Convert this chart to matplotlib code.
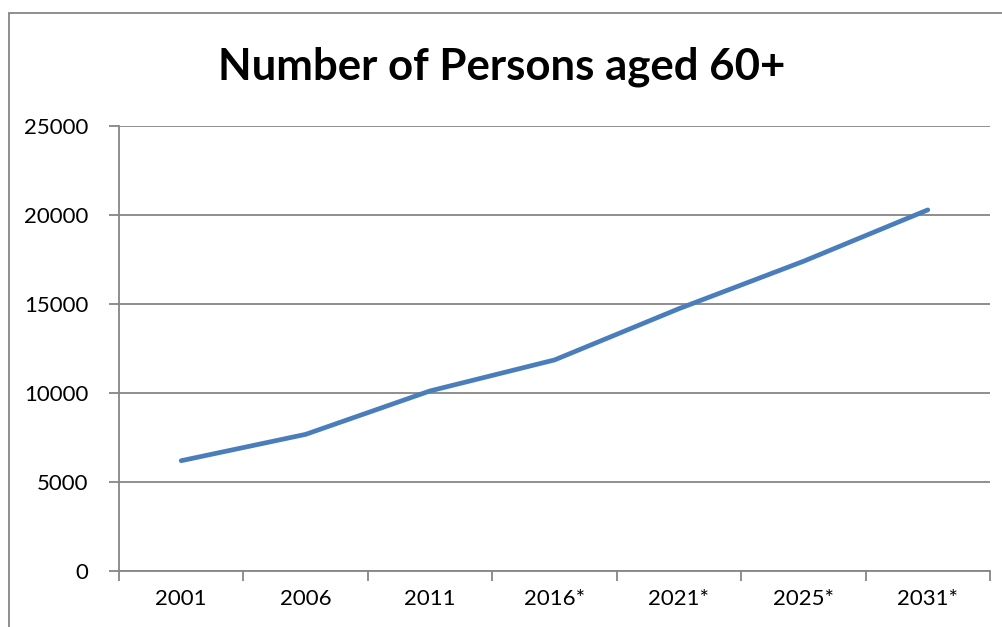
import matplotlib
matplotlib.use("Agg")
import matplotlib.pyplot as plt
import matplotlib.patches as mpatches
import numpy as np

years  = ["2001", "2006", "2011", "2016*", "2021*", "2025*", "2031*"]
values = [6180, 7660, 10100, 11840, 14720, 17380, 20270]

plt.rcParams["font.family"] = ["Lato", "DejaVu Sans"]

GRID = "#868686"
LINE = "#4a7ebb"

fig = plt.figure(figsize=(10.03, 6.27), dpi=100, facecolor="white")
ax = fig.add_axes([119/1003, 1 - 570.7/627, (990 - 119)/1003, (570.7 - 125.7)/627])

# outer chart border (cut off at right/bottom in the original)
fig.patches.append(mpatches.Rectangle((9/1003, -0.05), 1.05, 1 - 13/627 + 0.05,
                   transform=fig.transFigure, fill=False,
                   edgecolor=GRID, linewidth=1.3))

x = np.arange(len(years))
ax.plot(x, values, color=LINE, linewidth=3.4, solid_capstyle="round", zorder=3)

ax.set_xlim(-0.5, len(years) - 0.5)
ax.set_ylim(0, 25000)
ax.set_yticks(np.arange(0, 25001, 5000))
ax.set_xticks(x)
ax.set_xticklabels(years)
ax.set_xticks(np.arange(-0.5, len(years)), minor=True)
ax.tick_params(axis="x", which="major", length=0, pad=13, labelsize=16)
ax.tick_params(axis="x", which="minor", length=7, width=1.3, color=GRID, direction="out")
ax.tick_params(axis="y", length=7, width=1.3, color=GRID, pad=15, labelsize=16)

ax.grid(axis="y", color=GRID, linewidth=1.3, zorder=0)
for s in ("top", "right"):
    ax.spines[s].set_visible(False)
for s in ("left", "bottom"):
    ax.spines[s].set_color(GRID)
    ax.spines[s].set_linewidth(1.3)

fig.text(0.5, 1 - 67/627, "Number of Persons aged 60+", ha="center", va="center",
         fontsize=31.5, fontweight="bold")

fig.savefig("out.png", dpi=100, facecolor="white")
